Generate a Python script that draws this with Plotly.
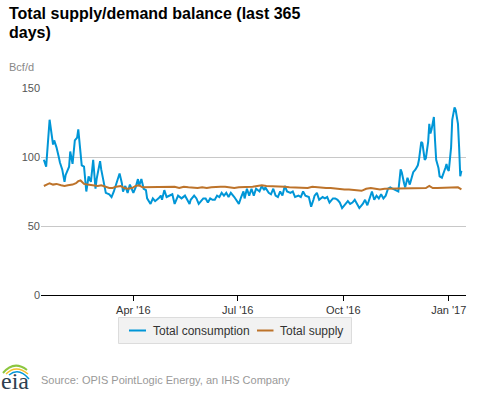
import plotly.graph_objects as go

# ---- data ----
cons_dates = [
    "2016-01-14", "2016-01-16", "2016-01-19", "2016-01-22", "2016-01-23", "2016-01-25", "2016-01-27",
    "2016-01-28", "2016-01-30", "2016-02-01", "2016-02-02", "2016-02-05", "2016-02-06", "2016-02-08",
    "2016-02-10", "2016-02-12", "2016-02-13", "2016-02-14", "2016-02-16", "2016-02-18", "2016-02-20",
    "2016-02-22", "2016-02-24", "2016-02-26", "2016-02-28", "2016-02-29", "2016-03-03", "2016-03-04",
    "2016-03-06", "2016-03-08", "2016-03-11", "2016-03-13", "2016-03-15", "2016-03-18", "2016-03-20",
    "2016-03-22", "2016-03-23", "2016-03-25", "2016-03-27", "2016-03-29", "2016-04-01", "2016-04-03",
    "2016-04-05", "2016-04-06", "2016-04-08", "2016-04-10", "2016-04-12", "2016-04-13", "2016-04-16",
    "2016-04-18", "2016-04-20", "2016-04-23", "2016-04-25", "2016-04-26", "2016-04-28", "2016-04-30",
    "2016-05-02", "2016-05-05", "2016-05-07", "2016-05-09", "2016-05-10", "2016-05-13", "2016-05-16",
    "2016-05-18", "2016-05-20", "2016-05-21", "2016-05-24", "2016-05-26", "2016-05-28", "2016-05-30",
    "2016-06-01", "2016-06-03", "2016-06-05", "2016-06-07", "2016-06-09", "2016-06-11", "2016-06-13",
    "2016-06-15", "2016-06-17", "2016-06-19", "2016-06-21", "2016-06-23", "2016-06-25", "2016-06-28",
    "2016-06-30", "2016-07-02", "2016-07-04", "2016-07-06", "2016-07-07", "2016-07-09", "2016-07-11",
    "2016-07-13", "2016-07-15", "2016-07-17", "2016-07-20", "2016-07-22", "2016-07-24", "2016-07-25",
    "2016-07-28", "2016-07-30", "2016-08-01", "2016-08-03", "2016-08-05", "2016-08-07", "2016-08-09",
    "2016-08-11", "2016-08-13", "2016-08-16", "2016-08-18", "2016-08-20", "2016-08-23", "2016-08-25",
    "2016-08-27", "2016-08-29", "2016-09-01", "2016-09-03", "2016-09-05", "2016-09-06", "2016-09-08",
    "2016-09-10", "2016-09-13", "2016-09-15", "2016-09-17", "2016-09-19", "2016-09-22", "2016-09-24",
    "2016-09-26", "2016-09-28", "2016-09-30", "2016-10-03", "2016-10-05", "2016-10-07", "2016-10-09",
    "2016-10-11", "2016-10-13", "2016-10-15", "2016-10-18", "2016-10-20", "2016-10-22", "2016-10-24",
    "2016-10-26", "2016-10-28", "2016-10-30", "2016-11-01", "2016-11-03", "2016-11-05", "2016-11-07",
    "2016-11-09", "2016-11-11", "2016-11-13", "2016-11-15", "2016-11-18", "2016-11-20", "2016-11-21",
    "2016-11-23", "2016-11-24", "2016-11-26", "2016-11-28", "2016-11-30", "2016-12-01", "2016-12-03",
    "2016-12-05", "2016-12-06", "2016-12-08", "2016-12-09", "2016-12-11", "2016-12-12", "2016-12-14",
    "2016-12-15", "2016-12-16", "2016-12-17", "2016-12-19", "2016-12-20", "2016-12-21", "2016-12-23",
    "2016-12-24", "2016-12-26", "2016-12-27", "2016-12-29", "2016-12-30", "2016-12-31", "2017-01-01",
    "2017-01-03", "2017-01-04", "2017-01-06", "2017-01-07", "2017-01-09", "2017-01-10", "2017-01-11",
    "2017-01-12",
]
consumption = [
    98, 93, 127, 109, 112, 107, 100,
    96, 91, 82, 87, 93, 104, 95,
    112, 114, 120, 112, 94, 93, 75,
    86, 82, 98, 77, 84, 97, 91,
    81, 74, 73, 71, 75, 83, 88,
    81, 75, 79, 74, 80, 74, 78,
    84, 79, 84, 77, 76, 70, 66,
    70, 68, 70, 72, 69, 76, 71,
    72, 73, 66, 70, 72, 70, 72,
    69, 66, 69, 72, 70, 66, 68,
    70, 70, 67, 70, 69, 69, 72,
    71, 74, 72, 74, 71, 74, 71,
    68, 66, 71, 75, 70, 77, 72,
    77, 72, 77, 75, 79, 76, 78,
    74, 73, 77, 72, 71, 75, 72,
    79, 75, 74, 75, 71, 72, 71,
    75, 72, 71, 64, 69, 72, 74,
    69, 71, 70, 71, 67, 70, 70,
    69, 67, 63, 66, 68, 66, 67,
    69, 66, 63, 66, 69, 65, 70,
    75, 69, 72, 70, 73, 70, 72,
    77, 78, 77, 76, 75, 91, 89,
    81, 78, 85, 80, 86, 89, 91,
    94, 98, 111, 110, 98, 99, 111,
    124, 117, 120, 129, 112, 98, 92,
    86, 85, 87, 92, 95, 91, 90,
    107, 127, 136, 134, 124, 107, 86,
    90,
]

supply_dates = [
    "2016-01-14", "2016-01-17", "2016-01-19", "2016-01-22", "2016-01-25", "2016-01-29", "2016-02-01",
    "2016-02-04", "2016-02-08", "2016-02-11", "2016-02-13", "2016-02-15", "2016-02-18", "2016-02-21",
    "2016-02-24", "2016-02-27", "2016-03-01", "2016-03-04", "2016-03-07", "2016-03-11", "2016-03-14",
    "2016-03-17", "2016-03-21", "2016-03-24", "2016-03-27", "2016-03-31", "2016-04-03", "2016-04-06",
    "2016-04-09", "2016-04-13", "2016-04-17", "2016-04-21", "2016-04-25", "2016-04-29", "2016-05-03",
    "2016-05-07", "2016-05-11", "2016-05-15", "2016-05-19", "2016-05-23", "2016-05-27", "2016-05-31",
    "2016-06-04", "2016-06-08", "2016-06-12", "2016-06-16", "2016-06-20", "2016-06-24", "2016-06-28",
    "2016-07-02", "2016-07-06", "2016-07-10", "2016-07-14", "2016-07-18", "2016-07-22", "2016-07-26",
    "2016-07-30", "2016-08-03", "2016-08-07", "2016-08-11", "2016-08-15", "2016-08-19", "2016-08-23",
    "2016-08-27", "2016-08-31", "2016-09-04", "2016-09-08", "2016-09-12", "2016-09-16", "2016-09-20",
    "2016-09-24", "2016-09-28", "2016-10-02", "2016-10-06", "2016-10-10", "2016-10-14", "2016-10-17",
    "2016-10-21", "2016-10-25", "2016-10-29", "2016-11-02", "2016-11-06", "2016-11-10", "2016-11-14",
    "2016-11-18", "2016-11-22", "2016-11-26", "2016-11-30", "2016-12-04", "2016-12-08", "2016-12-12",
    "2016-12-15", "2016-12-18", "2016-12-22", "2016-12-26", "2016-12-30", "2017-01-03", "2017-01-06",
    "2017-01-09", "2017-01-12",
]
supply = [
    79, 80.5, 81, 80, 80.5, 79.5, 79,
    79.5, 80, 81, 82.5, 83, 80.5, 80,
    79.5, 79, 79, 79.5, 78.5, 77.5, 77.5,
    78.5, 79, 77.5, 77, 77.5, 79, 79.5,
    78, 78, 78, 78.5, 78.5, 78, 78.5,
    78.5, 77.5, 78.5, 78, 77.5, 77.5, 78,
    77.5, 78, 78.5, 78.5, 78.5, 78, 77.5,
    78, 78, 78, 78.5, 79, 79.5, 79,
    79, 78.5, 79, 78.5, 78, 78, 78,
    78, 77.5, 78.5, 78, 77.5, 77.5, 77.5,
    77, 77, 76.5, 76.5, 76, 75.5, 75.5,
    77, 77.5, 77, 76.5, 77, 77, 77,
    77.5, 77.5, 77.5, 77.5, 77.5, 77.5, 77.5,
    79, 77.5, 77.5, 77.5, 77.5, 77.5, 78,
    78, 76.5,
]

series_names = ["Total consumption", "Total supply"]
series_colors = ["#0096D7", "#BD732A"]

tick_vals = ["2016-04-01", "2016-07-01", "2016-10-01", "2017-01-01"]
tick_text = ["Apr '16", "Jul '16", "Oct '16", "Jan '17"]

FONT = "Liberation Sans, Arial, sans-serif"
W, H = 477, 393
ML, MR, MT, MB = 41, 11, 88, 98
PW, PH = W - ML - MR, H - MT - MB


def px(x):
    return (x - ML) / PW


def py(y):
    return (H - MB - y) / PH


fig = go.Figure()
fig.add_trace(go.Scatter(x=cons_dates, y=consumption, mode="lines", name=series_names[0],
                         line=dict(color=series_colors[0], width=2)))
fig.add_trace(go.Scatter(x=supply_dates, y=supply, mode="lines", name=series_names[1],
                         line=dict(color=series_colors[1], width=2)))

fig.update_layout(
    width=W, height=H,
    margin=dict(l=ML, r=MR, t=MT, b=MB, autoexpand=False),
    paper_bgcolor="white", plot_bgcolor="white",
    font=dict(family=FONT, size=11, color="#333333"),
    xaxis=dict(range=["2016-01-11 12:00", "2017-01-16"], tickvals=tick_vals, ticktext=tick_text,
               showgrid=False, showline=True, linecolor="#000000", linewidth=1,
               ticks="outside", ticklen=5, tickcolor="#000000",
               tickfont=dict(size=11, color="#333333"), zeroline=False),
    yaxis=dict(range=[0, 150], dtick=50, showgrid=True, gridcolor="#C8C8C8", gridwidth=1,
               zeroline=False, showline=False, ticks="",
               tickfont=dict(size=11, color="#555555")),
    showlegend=False,
)

ann = [
    dict(text="<b>Total supply/demand balance (last 365</b>", x=px(7), y=py(13.5),
         xanchor="left", yanchor="middle", font=dict(size=16, color="#000000")),
    dict(text="<b>days)</b>", x=px(7), y=py(32.5),
         xanchor="left", yanchor="middle", font=dict(size=16, color="#000000")),
    dict(text="Bcf/d", x=px(7), y=py(67), xanchor="left", yanchor="middle",
         font=dict(size=11, color="#888888")),
    dict(text="Source: OPIS PointLogic Energy, an IHS Company", x=px(39), y=py(380),
         xanchor="left", yanchor="middle", font=dict(size=11, color="#999999")),
    dict(text="eia", x=px(-1), y=py(381), xanchor="left", yanchor="middle",
         font=dict(family="Liberation Serif, serif", size=24, color="#2E3F50")),
    # legend texts
    dict(text=series_names[0], x=px(151), y=py(330.5), xanchor="left", yanchor="middle",
         font=dict(size=12, color="#333333")),
    dict(text=series_names[1], x=px(278), y=py(330.5), xanchor="left", yanchor="middle",
         font=dict(size=12, color="#333333")),
]
for a in ann:
    a.update(xref="paper", yref="paper", showarrow=False)
fig.update_layout(annotations=ann)

# legend box and samples
fig.add_shape(type="rect", xref="paper", yref="paper", x0=px(118.5), x1=px(351.5),
              y0=py(317.5), y1=py(343.5), fillcolor="#F2F2F2", line=dict(color="#DCDCDC", width=1),
              layer="below")
fig.add_shape(type="line", xref="paper", yref="paper", x0=px(129), x1=px(146), y0=py(330.5),
              y1=py(330.5), line=dict(color=series_colors[0], width=2))
fig.add_shape(type="line", xref="paper", yref="paper", x0=px(257), x1=px(273.5), y0=py(330.5),
              y1=py(330.5), line=dict(color=series_colors[1], width=2))


# logo arcs
def arc(x0, y0, cx, cy, x1, y1, color, w):
    fig.add_shape(type="path", xref="paper", yref="paper",
                  path="M %f,%f Q %f,%f %f,%f" % (px(x0), py(y0), px(cx), py(cy), px(x1), py(y1)),
                  line=dict(color=color, width=w))


arc(3, 373, 14, 360, 27, 370, "#8CC63F", 2)
arc(6, 374, 16, 364, 28, 374, "#F2C12E", 1.5)
arc(9, 375, 19, 367, 29, 379, "#0096D7", 1.5)

fig.write_html("out.html", config={"displayModeBar": False},
               post_script="document.body.style.margin='0';document.body.style.padding='0';")
